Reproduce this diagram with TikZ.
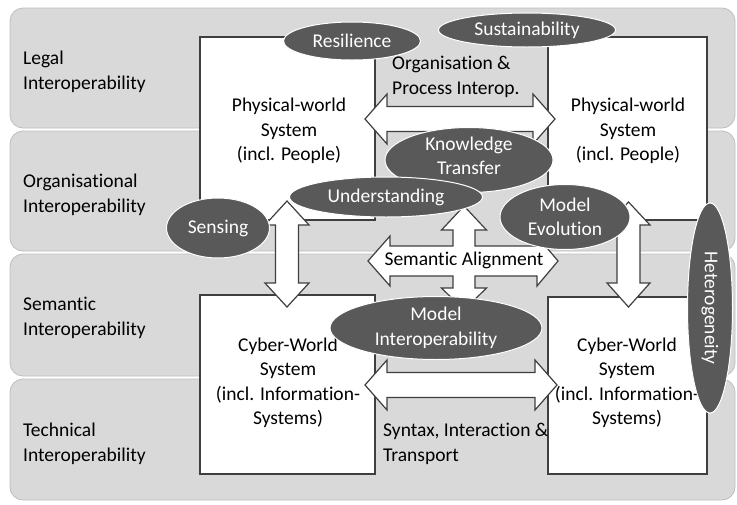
\documentclass[tikz,border=0pt]{standalone}
\usepackage{fontspec}
\setmainfont{Carlito}[Ligatures={NoCommon}]
\usetikzlibrary{shapes.geometric}
\definecolor{band}{HTML}{D9D9D9}
\definecolor{bandline}{HTML}{BDBDBD}
\definecolor{edge}{HTML}{3F3F3F}
\definecolor{oval}{HTML}{595959}
\begin{document}
\begin{tikzpicture}[x=1pt,y=-1pt,
  every node/.style={font=\fontsize{19.5}{24.5}\selectfont},
  bandbox/.style={fill=band, draw=bandline, line width=0.8pt, rounded corners=13pt},
  sysbox/.style={rectangle, draw=edge, line width=1.3pt, fill=white, inner sep=0pt},
  systext/.style={align=center, inner sep=0pt},
  blockarrow/.style={draw=edge, line width=1.2pt, fill=white, line join=miter},
  oval/.style={ellipse, fill=oval, draw=white, line width=1pt, text=white, inner sep=-2pt, align=center},
  lbl/.style={align=left, anchor=west, inner sep=0pt}]
\useasboundingbox (0,0) rectangle (737,504);
% layer bands
\path[bandbox] (10,8) rectangle (735,128);
\path[bandbox] (10,131) rectangle (735,251);
\path[bandbox] (10,254) rectangle (735,376);
\path[bandbox] (10,379) rectangle (735,500);
\node[lbl] (legal) at (23,72) {Legal\\Interoperability};
\node[lbl] (organ) at (23,195) {Organisational\\Interoperability};
\node[lbl] (seman) at (23,318) {Semantic\\Interoperability};
\node[lbl] (techn) at (23,444) {Technical\\Interoperability};
% boxes
\node[sysbox, minimum width=175pt, minimum height=183pt] (pw1) at (287.5,128.5) {};
\node[sysbox, minimum width=159pt, minimum height=183pt] (pw2) at (627.5,128.5) {};
\node[sysbox, minimum width=175pt, minimum height=179pt] (cw1) at (287.5,384.5) {};
\node[sysbox, minimum width=159pt, minimum height=177pt] (cw2) at (627.5,385.5) {};
\node[systext] (pw1t) at (289,131) {Physical-world\\System\\(incl. People)};
\node[systext] (pw2t) at (628,131) {Physical-world\\System\\(incl. People)};
\node[systext] (cw1t) at (288,383) {Cyber-World\\System\\(incl. Information-\\Systems)};
\node[systext] (cw2t) at (627,383) {Cyber-World\\System\\(incl. Information-\\Systems)};
\node[lbl] (orgtxt) at (392,77) {Organisation \&\\Process Interop.};
\node[lbl] (syntxt) at (383,444) {Syntax, Interaction \&\\Transport};
% block arrows
\draw[blockarrow] (365,119) -- (387,94) -- (387,106.5) -- (533,106.5) -- (533,94) -- (555,119)
  -- (533,144) -- (533,131.5) -- (387,131.5) -- (387,144) -- cycle;
\draw[blockarrow] (365,385) -- (387,360) -- (387,372.5) -- (535,372.5) -- (535,360) -- (557,385)
  -- (535,410) -- (535,397.5) -- (387,397.5) -- (387,410) -- cycle;
\draw[blockarrow] (287,201) -- (309,225) -- (298.5,225) -- (298.5,283) -- (309,283) -- (287,307)
  -- (265,283) -- (275.5,283) -- (275.5,225) -- (265,225) -- cycle;
\draw[blockarrow] (628.5,202) -- (650,225) -- (640,225) -- (640,283) -- (650,283) -- (628.5,307)
  -- (607,283) -- (617,283) -- (617,225) -- (607,225) -- cycle;
\draw[blockarrow] (464,206) -- (486.5,230) -- (475,230) -- (475,246) -- (537,246) -- (537,236)
  -- (558,261) -- (537,286) -- (537,276) -- (475,276) -- (475,288) -- (486.5,288) -- (464,310)
  -- (441.5,288) -- (453,288) -- (453,276) -- (390,276) -- (390,286) -- (368,261) -- (390,236)
  -- (390,246) -- (453,246) -- (453,230) -- (441.5,230) -- cycle;
\node (semtxt) at (464,260) {Semantic Alignment};
% ovals
\node[oval, minimum width=137pt, minimum height=38pt] (res) at (352,41) {Resilience};
\node[oval, minimum width=177pt, minimum height=34pt] (sus) at (527,30) {Sustainability};
\node[oval, minimum width=168pt, minimum height=65pt] (kt) at (469,160) {};
\node[systext, text=white] (ktt) at (469,156) {Knowledge\\Transfer};
\node[oval, minimum width=193pt, minimum height=40pt] (und) at (386,197) {Understanding};
\node[oval, minimum width=103pt, minimum height=60pt] (sen) at (218,228) {Sensing};
\node[oval, minimum width=130pt, minimum height=65pt] (mev) at (565,217) {Model\\Evolution};
\node[oval, minimum width=212pt, minimum height=63pt] (mint) at (436,328) {Model\\Interoperability};
\node[oval, rotate=-90, minimum width=210pt, minimum height=45pt] (het) at (710,308) {Heterogeneity};
\end{tikzpicture}
\end{document}
